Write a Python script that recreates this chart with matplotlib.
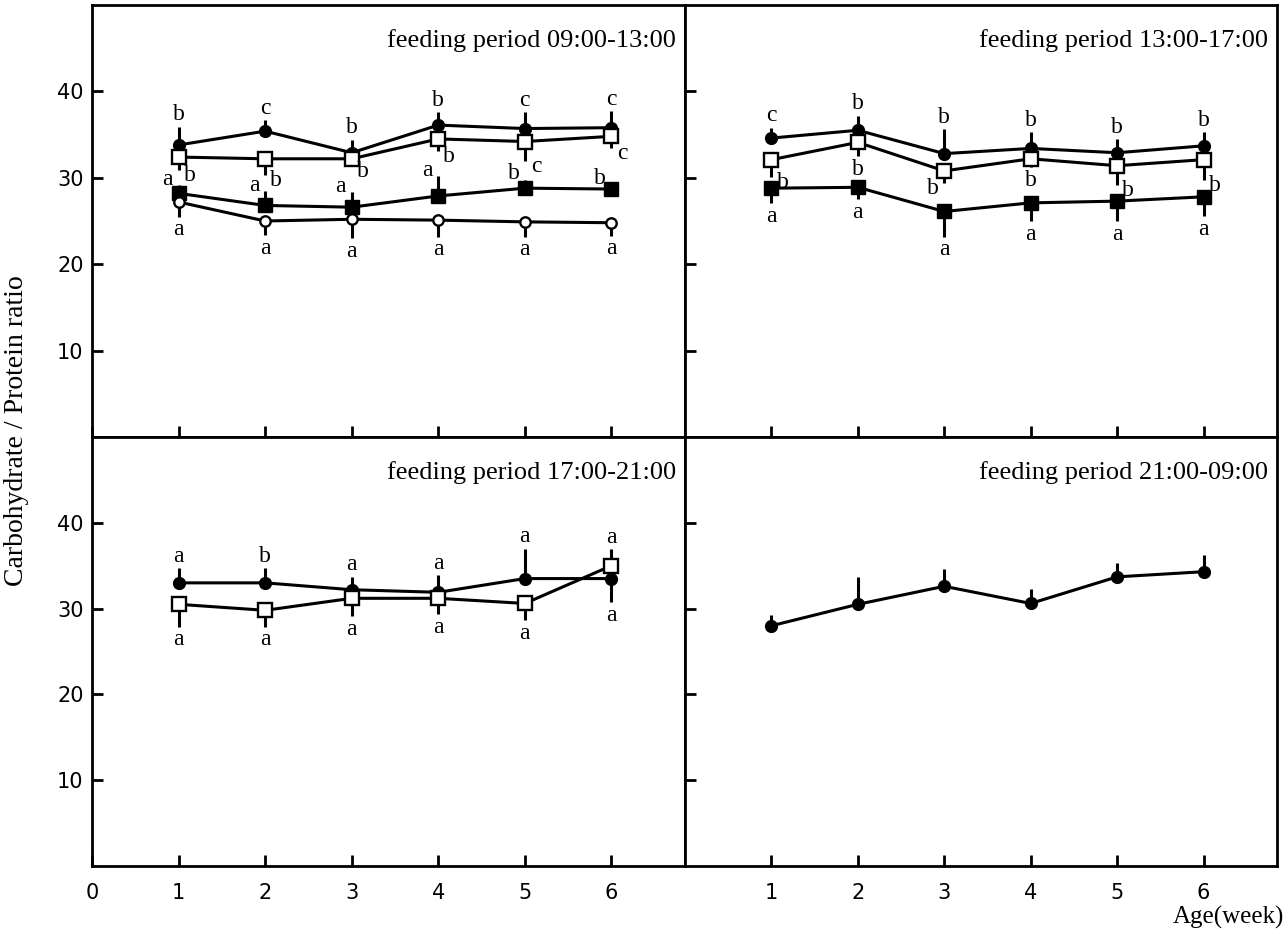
import matplotlib
matplotlib.use('Agg')
import matplotlib.pyplot as plt

SERIF = ['Liberation Serif', 'DejaVu Serif']
NARROW = ['DejaVu Sans Condensed', 'Liberation Sans Narrow', 'DejaVu Sans']

weeks = [1, 2, 3, 4, 5, 6]

titles = ['feeding period 09:00-13:00', 'feeding period 13:00-17:00',
          'feeding period 17:00-21:00', 'feeding period 21:00-09:00']

# error values: positive = bar drawn upwards, negative = downwards
# panel 1  09:00-13:00
p1_dot = [33.8, 35.4, 32.9, 36.1, 35.7, 35.8]
p1_dot_err = [2.1, 1.3, 1.5, 1.5, 1.9, 1.9]
p1_dot_sig = ['b', 'c', 'b', 'b', 'c', 'c']
p1_box = [32.4, 32.2, 32.2, 34.5, 34.2, 34.8]
p1_box_err = [-1.5, -1.9, -0.8, -1.4, -2.3, -1.4]
p1_box_sig = ['b', 'b', 'b', 'b', 'c', 'c']
p1_sq = [28.2, 26.8, 26.6, 27.9, 28.8, 28.7]
p1_sq_err = [1.0, 1.7, 1.8, 2.3, 1.0, 0.6]
p1_sq_sig = ['a', 'a', 'a', 'a', 'b', 'b']
p1_ring = [27.2, 25.0, 25.2, 25.1, 24.9, 24.8]
p1_ring_err = [-1.7, -1.6, -2.2, -1.9, -1.7, -1.5]
p1_ring_sig = ['a', 'a', 'a', 'a', 'a', 'a']

# panel 2  13:00-17:00
p2_dot = [34.6, 35.5, 32.8, 33.4, 32.9, 33.7]
p2_dot_err = [1.2, 1.7, 2.8, 1.9, 1.6, 1.6]
p2_dot_sig = ['c', 'b', 'b', 'b', 'b', 'b']
p2_box = [32.1, 34.1, 30.8, 32.2, 31.4, 32.1]
p2_box_err = [-2.0, -1.6, -1.4, -1.0, -2.2, -2.4]
p2_box_sig = ['b', 'b', 'b', 'b', 'b', 'b']
p2_sq = [28.8, 28.9, 26.1, 27.1, 27.3, 27.8]
p2_sq_err = [-1.7, -1.4, -2.9, -2.1, -2.3, -2.2]
p2_sq_sig = ['a', 'a', 'a', 'a', 'a', 'a']

# panel 3  17:00-21:00
p3_dot = [33.0, 33.0, 32.2, 31.9, 33.5, 33.5]
p3_dot_err = [1.7, 1.7, 1.5, 2.0, 3.5, -2.7]
p3_dot_sig = ['a', 'b', 'a', 'a', 'a', 'a']
p3_box = [30.5, 29.8, 31.2, 31.2, 30.6, 35.0]
p3_box_err = [-2.6, -1.9, -2.1, -1.8, -1.9, 1.9]
p3_box_sig = ['a', 'a', 'a', 'a', 'a', 'a']

# panel 4  21:00-09:00
p4_dot = [28.0, 30.5, 32.6, 30.6, 33.7, 34.3]
p4_dot_err = [1.2, 3.2, 2.0, 1.7, 1.6, 1.9]

styles = {
    'dot': dict(marker='o', ms=8.5, mfc='black', mec='black'),
    'box': dict(marker='s', ms=10, mfc='white', mec='black', mew=1.7),
    'sq': dict(marker='s', ms=9.5, mfc='black', mec='black'),
    'ring': dict(marker='o', ms=7.5, mfc='white', mec='black', mew=1.7),
}

# where the letter goes relative to the end of the bar: c=beyond, l=left, r=right
panels = [
    [(p1_dot, p1_dot_err, p1_dot_sig, 'dot', 'cccccc'),
     (p1_box, p1_box_err, p1_box_sig, 'box', 'rrrrrr'),
     (p1_sq, p1_sq_err, p1_sq_sig, 'sq', 'llllll'),
     (p1_ring, p1_ring_err, p1_ring_sig, 'ring', 'cccccc')],
    [(p2_dot, p2_dot_err, p2_dot_sig, 'dot', 'cccccc'),
     (p2_box, p2_box_err, p2_box_sig, 'box', 'rclcrr'),
     (p2_sq, p2_sq_err, p2_sq_sig, 'sq', 'cccccc')],
    [(p3_dot, p3_dot_err, p3_dot_sig, 'dot', 'cccccc'),
     (p3_box, p3_box_err, p3_box_sig, 'box', 'cccccc')],
    [(p4_dot, p4_dot_err, None, 'dot', 'cccccc')],
]


def put_letters(ax, y, err, sig, where):
    for x, v, e, s, w in zip(weeks, y, err, sig, where):
        end = v + e
        up = e >= 0
        if w == 'c':
            ax.annotate(s, (x, end), xytext=(0, 1 if up else -2), textcoords='offset points',
                        ha='center', va='bottom' if up else 'top', fontsize=17, family=SERIF)
        else:
            dx = -8 if w == 'l' else 8
            ax.annotate(s, (x, end), xytext=(dx, 4 if up else -4), textcoords='offset points',
                        ha='center', va='center', fontsize=17, family=SERIF)


fig = plt.figure(figsize=(12.88, 9.33), dpi=100)
L, M, R = 92 / 1288, 685 / 1288, 1277 / 1288
T, C, B = 1 - 5 / 933, 1 - 437 / 933, 1 - 866 / 933
boxes = [(L, C, M - L, T - C), (M, C, R - M, T - C),
         (L, B, M - L, C - B), (M, B, R - M, C - B)]

for i, (rect, series) in enumerate(zip(boxes, panels)):
    ax = fig.add_axes(rect)
    for y, err, sig, kind, where in series:
        lo = [max(-e, 0) for e in err]
        hi = [max(e, 0) for e in err]
        ax.errorbar(weeks, y, yerr=[lo, hi], fmt='none', ecolor='black', elinewidth=2.2, capsize=0, zorder=2)
        ax.plot(weeks, y, color='black', lw=2.2, zorder=3, **styles[kind])
        if sig:
            put_letters(ax, y, err, sig, where)
    ax.set_xlim(0, 6.85)
    ax.set_ylim(0, 50)
    ax.set_yticks([10, 20, 30, 40])
    ax.set_xticks([0] + weeks if i % 2 == 0 else weeks)
    ax.tick_params(direction='in', length=8, width=2, labelsize=15)
    ax.tick_params(axis='y', pad=6)
    ax.tick_params(axis='x', pad=12)
    if i % 2 == 1:
        ax.set_yticklabels([])
    if i < 2:
        ax.set_xticklabels([])
    for lab in ax.get_xticklabels() + ax.get_yticklabels():
        lab.set_family(NARROW)
    for sp in ax.spines.values():
        sp.set_linewidth(2)
    ax.text(0.985, 0.918, titles[i], transform=ax.transAxes, ha='right', va='center',
            fontsize=19, family=SERIF)

fig.text(0.013, 0.538, 'Carbohydrate / Protein ratio', rotation=90, ha='center', va='center',
         fontsize=20, family=SERIF)
fig.text(0.997, 0.017, 'Age(week)', ha='right', va='center', fontsize=18, family=SERIF)

fig.savefig('out.png', dpi=100)
